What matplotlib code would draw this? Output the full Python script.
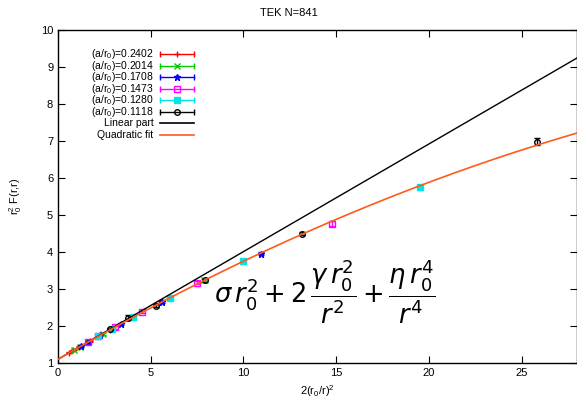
import numpy as np
import matplotlib
matplotlib.use("Agg")
import matplotlib.pyplot as plt

plt.rcParams['font.family'] = ['Liberation Sans', 'DejaVu Sans']
plt.rcParams['mathtext.fontset'] = 'dejavusans'

# Series: (a/r0) values, x = 2(r0/r)^2, y = r0^2 F(r,r), errors
labels = ['0.2402', '0.2014', '0.1708', '0.1473', '0.1280', '0.1118']

x_2402 = [0.62, 0.82, 1.15, 1.71, 2.83, 5.55]
y_2402 = [1.28, 1.34, 1.43, 1.59, 1.90, 2.64]
e_2402 = [0.02, 0.02, 0.02, 0.02, 0.02, 0.03]

x_2014 = [0.88, 1.17, 1.63, 2.44, 4.03, 7.89]
y_2014 = [1.36, 1.44, 1.57, 1.79, 2.23, 3.23]
e_2014 = [0.02, 0.02, 0.02, 0.02, 0.03, 0.03]

x_1708 = [1.22, 1.62, 2.27, 3.39, 5.60, 10.97]
y_1708 = [1.45, 1.56, 1.75, 2.06, 2.66, 3.95]
e_1708 = [0.02, 0.02, 0.02, 0.03, 0.04, 0.04]

x_1473 = [1.64, 2.18, 3.05, 4.55, 7.52, 14.75]
y_1473 = [1.57, 1.72, 1.96, 2.37, 3.17, 4.77]
e_1473 = [0.02, 0.02, 0.03, 0.03, 0.04, 0.06]

x_1280 = [2.17, 2.89, 4.04, 6.03, 9.97, 19.53]
y_1280 = [1.72, 1.92, 2.23, 2.76, 3.77, 5.75]
e_1280 = [0.02, 0.03, 0.03, 0.04, 0.05, 0.07]

x_1118 = [2.80, 3.75, 5.27, 7.90, 13.17, 25.85]
y_1118 = [1.92, 2.22, 2.55, 3.24, 4.50, 6.98]
e_1118 = [0.03, 0.07, 0.04, 0.04, 0.04, 0.10]

# fit parameters: a + b*x (+ c*x^2)
fit_a = 1.10
fit_b = 0.291
fit_c = -0.00259

colors = ['#ff0000', '#00cc00', '#0000ff', '#ff00ff', '#00e5e5', '#000000']
markers = ['+', 'x', '*', 's', 's', 'o']
fills = ['full', 'full', 'full', 'none', 'full', 'none']
sizes = [5, 4.5, 5, 4, 4, 4]
fit_color = '#ff5a1e'

xs = [x_2402, x_2014, x_1708, x_1473, x_1280, x_1118]
ys = [y_2402, y_2014, y_1708, y_1473, y_1280, y_1118]
es = [e_2402, e_2014, e_1708, e_1473, e_1280, e_1118]

fig = plt.figure(figsize=(5.77, 3.99), dpi=100)
ax = fig.add_axes([0.1005, 0.0902, 0.9, 0.8346])

for x, y, e, c, m, f, ms in zip(xs, ys, es, colors, markers, fills, sizes):
    ax.errorbar(x, y, yerr=e, fmt=m, color=c, mfc=c if f == 'full' else 'none',
                mec=c, ms=ms, mew=1, elinewidth=1, capsize=2, zorder=3)

xx = np.linspace(0, 28, 200)
ax.plot(xx, fit_a + fit_b * xx, color='black', lw=1, zorder=4)
ax.plot(xx, fit_a + fit_b * xx + fit_c * xx ** 2, color=fit_color, lw=1.2, zorder=4)

ax.set_xlim(0, 28)
ax.set_ylim(1, 10)
ax.set_xticks([0, 5, 10, 15, 20, 25])
ax.set_yticks(range(1, 11))
ax.tick_params(direction='in', top=True, right=True, length=5, labelsize=8)
for s in ax.spines.values():
    s.set_linewidth(1)

# legend drawn by hand, gnuplot style (right aligned text, sample on the right)
tx, s0, s1 = 0.184, 0.197, 0.261
row_y = [0.928, 0.893, 0.859, 0.824, 0.790, 0.755, 0.721, 0.686]
for i, (lab, c, m, f, ms) in enumerate(zip(labels, colors, markers, fills, sizes)):
    yy = row_y[i]
    ax.text(tx, yy, r'(a/r$_\mathregular{0}$)=' + lab, transform=ax.transAxes,
            ha='right', va='center', fontsize=7.5)
    ax.plot([s0, s1], [yy, yy], color=c, lw=1, transform=ax.transAxes, zorder=5)
    ax.plot([s0, s1], [yy, yy], color=c, lw=0, marker='|', ms=4,
            transform=ax.transAxes, zorder=5)
    ax.plot([(s0 + s1) / 2], [yy], color=c, marker=m, ms=ms, mew=1,
            mfc=c if f == 'full' else 'none', mec=c,
            transform=ax.transAxes, zorder=5)
for lab, c, yy in [('Linear part', 'black', row_y[6]), ('Quadratic fit', fit_color, row_y[7])]:
    ax.text(tx, yy, lab, transform=ax.transAxes, ha='right', va='center', fontsize=7.5)
    ax.plot([s0, s1], [yy, yy], color=c, lw=1.2, transform=ax.transAxes, zorder=5)

ax.text(0.30, 0.215,
        r'$\sigma\, r_0^2 + 2\,\dfrac{\gamma\, r_0^2}{r^2} + \dfrac{\eta\, r_0^4}{r^4}$',
        transform=ax.transAxes, fontsize=18.5, ha='left', va='center')

fig.text(0.5, 0.967, 'TEK N=841', ha='center', va='center', fontsize=8)
ax.set_xlabel(r'2(r$_\mathregular{0}$/r)$^\mathregular{2}$', fontsize=8, labelpad=4)
ax.set_ylabel(r'r$_\mathregular{0}^\mathregular{2}$ F(r,r)', fontsize=8, labelpad=12)

fig.savefig('out.png', dpi=100)
